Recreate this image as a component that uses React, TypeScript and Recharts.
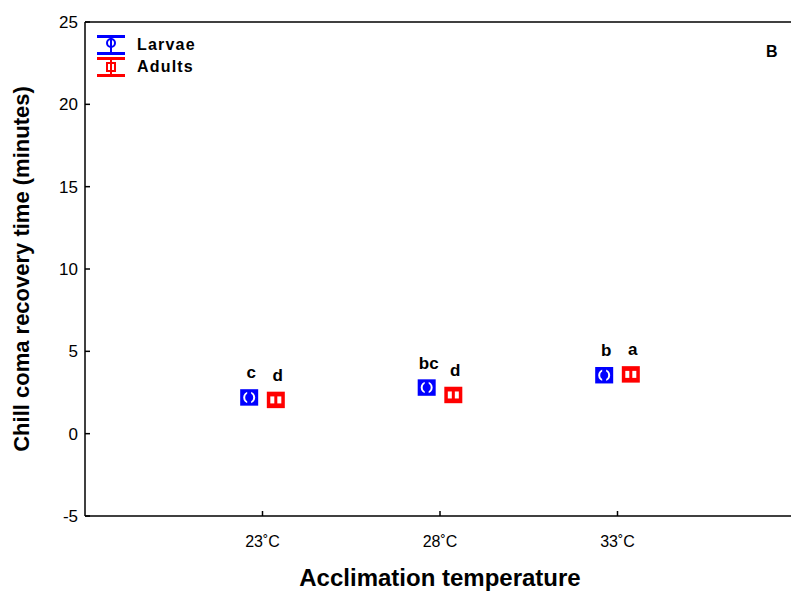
import React from 'react'
import {
  ScatterChart,
  Scatter,
  XAxis,
  YAxis,
  ErrorBar,
  ReferenceLine,
} from 'recharts'

// acclimation temperatures (category positions on the x axis)
const temps = ['23˚C', '28˚C', '33˚C']
const tempPos = [1, 2, 3]

// chill coma recovery time, minutes
const larvaeMean = [2.2, 2.8, 3.55]
const larvaeErr = [0.5, 0.5, 0.5]
const larvaeLetters = ['c', 'bc', 'b']

const adultsMean = [2.05, 2.35, 3.6]
const adultsErr = [0.5, 0.5, 0.5]
const adultsLetters = ['d', 'd', 'a']

const yTicks = [-5, 0, 5, 10, 15, 20, 25]

const BLUE = '#0000ff'
const RED = '#ff0000'
const FONT = '"Liberation Sans", Arial, sans-serif'

const PLOT_LEFT = 85
const PLOT_BOTTOM = 516

const larvaeData = tempPos.map((t, i) => ({
  x: t - 0.075,
  y: larvaeMean[i],
  err: larvaeErr[i],
  letter: larvaeLetters[i],
}))
const adultsData = tempPos.map((t, i) => ({
  x: t + 0.075,
  y: adultsMean[i],
  err: adultsErr[i],
  letter: adultsLetters[i],
}))

const Letter = ({ cx, cy, text }: { cx: number; cy: number; text: string }) => (
  <text x={cx + 2} y={cy - 19} textAnchor="middle" fontFamily={FONT} fontWeight="bold" fontSize={17} fill="#000">
    {text}
  </text>
)

// the coloured block itself comes from the thick ErrorBar; these draw the white inner glyph
const CircleMarker = (props: any) => {
  const { cx, cy, payload } = props
  return (
    <g>
      <circle cx={cx} cy={cy} r={5} fill="none" stroke="#fff" strokeWidth={2} />
      <rect x={cx - 2} y={cy - 7} width={4} height={14} fill={BLUE} />
      <Letter cx={cx} cy={cy} text={payload.letter} />
    </g>
  )
}

const SquareMarker = (props: any) => {
  const { cx, cy, payload } = props
  return (
    <g>
      <rect x={cx - 5.5} y={cy - 3.5} width={11} height={7} fill="#fff" />
      <rect x={cx - 1.5} y={cy - 5} width={3} height={10} fill={RED} />
      <Letter cx={cx} cy={cy} text={payload.letter} />
    </g>
  )
}

const YTick = (props: any) => {
  const { y, payload } = props
  return (
    <g>
      <line x1={PLOT_LEFT} x2={PLOT_LEFT + 5} y1={y} y2={y} stroke="#000" strokeWidth={1.5} />
      <text x={PLOT_LEFT - 7} y={y} dy={6} textAnchor="end" fontFamily={FONT} fontSize={17} fill="#000">
        {payload.value}
      </text>
    </g>
  )
}

const XTick = (props: any) => {
  const { x, payload } = props
  return (
    <g>
      <line x1={x} x2={x} y1={PLOT_BOTTOM} y2={PLOT_BOTTOM - 5} stroke="#000" strokeWidth={1.5} />
      <text x={x} y={PLOT_BOTTOM + 31} textAnchor="middle" fontFamily={FONT} fontSize={16} fill="#000">
        {temps[payload.value - 1]}
      </text>
    </g>
  )
}

const LegendIcon = ({ color, square }: { color: string; square: boolean }) => (
  <svg width={32} height={22} style={{ display: 'block' }}>
    <line x1={2} x2={30} y1={2.5} y2={2.5} stroke={color} strokeWidth={3} />
    <line x1={2} x2={30} y1={19.5} y2={19.5} stroke={color} strokeWidth={3} />
    <line x1={16} x2={16} y1={3} y2={19} stroke={color} strokeWidth={2} />
    {square ? (
      <rect x={12} y={7} width={8} height={8} fill="none" stroke={color} strokeWidth={2} />
    ) : (
      <circle cx={16} cy={9} r={4} fill="none" stroke={color} strokeWidth={2} />
    )}
  </svg>
)

export default function App() {
  return (
    <div style={{ position: 'absolute', left: 0, top: 0, width: 791, height: 597, background: '#fff', overflow: 'hidden' }}>
      <ScatterChart width={795} height={597} margin={{ top: 22, right: 0, left: 0, bottom: 51 }}>
        <XAxis
          type="number"
          dataKey="x"
          domain={[0, 4]}
          ticks={tempPos}
          tick={<XTick />}
          tickLine={false}
          axisLine={{ stroke: '#000', strokeWidth: 1.5 }}
          height={30}
          allowDataOverflow
        />
        <YAxis
          type="number"
          dataKey="y"
          domain={[-5, 25]}
          ticks={yTicks}
          tick={<YTick />}
          tickLine={false}
          axisLine={{ stroke: '#000', strokeWidth: 1.5 }}
          width={85}
        />
        <ReferenceLine y={25} stroke="#000" strokeWidth={1.5} />
        <Scatter data={larvaeData} fill={BLUE} shape={<CircleMarker />} isAnimationActive={false}>
          <ErrorBar dataKey="err" direction="y" width={0} stroke={BLUE} strokeWidth={18} />
        </Scatter>
        <Scatter data={adultsData} fill={RED} shape={<SquareMarker />} isAnimationActive={false}>
          <ErrorBar dataKey="err" direction="y" width={0} stroke={RED} strokeWidth={18} />
        </Scatter>
      </ScatterChart>
      <div style={{ position: 'absolute', left: 95, top: 34, fontFamily: FONT, fontWeight: 'bold', fontSize: 16, letterSpacing: 1.2 }}>
        <div style={{ display: 'flex', alignItems: 'center', height: 22 }}>
          <LegendIcon color={BLUE} square={false} />
          <span style={{ marginLeft: 10 }}>Larvae</span>
        </div>
        <div style={{ display: 'flex', alignItems: 'center', height: 22 }}>
          <LegendIcon color={RED} square={true} />
          <span style={{ marginLeft: 10 }}>Adults</span>
        </div>
      </div>
      <div
        style={{
          position: 'absolute',
          left: 22,
          top: 269,
          transform: 'translate(-50%, -50%) rotate(-90deg)',
          whiteSpace: 'nowrap',
          fontFamily: FONT,
          fontWeight: 'bold',
          fontSize: 22,
        }}
      >
        Chill coma recovery time (minutes)
      </div>
      <div
        style={{
          position: 'absolute',
          left: 440,
          top: 578,
          transform: 'translate(-50%, -50%)',
          whiteSpace: 'nowrap',
          fontFamily: FONT,
          fontWeight: 'bold',
          fontSize: 24,
        }}
      >
        Acclimation temperature
      </div>
      <div
        style={{
          position: 'absolute',
          left: 766,
          top: 43,
          fontFamily: FONT,
          fontWeight: 'bold',
          fontSize: 16,
        }}
      >
        B
      </div>
    </div>
  )
}
